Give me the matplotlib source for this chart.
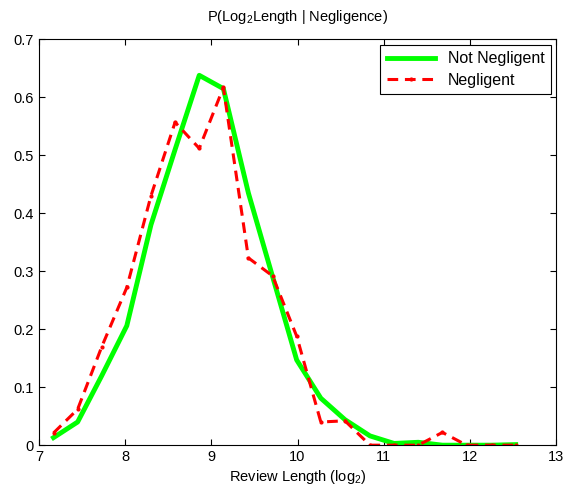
import matplotlib
matplotlib.use("Agg")
import matplotlib.pyplot as plt
from matplotlib.ticker import FormatStrFormatter

plt.rcParams['font.family'] = ['Liberation Sans', 'DejaVu Sans']
plt.rcParams['mathtext.default'] = 'regular'

# bin centres (log2 of review length)
log_len = [7.17, 7.45, 7.73, 8.02, 8.30, 8.58, 8.86, 9.14, 9.43, 9.71,
           9.99, 10.27, 10.55, 10.84, 11.12, 11.40, 11.68, 11.96, 12.25, 12.53]

not_negligent = [0.013, 0.040, 0.120, 0.206, 0.380, 0.510, 0.638, 0.615, 0.435, 0.291,
                 0.147, 0.081, 0.044, 0.016, 0.003, 0.005, 0.000, 0.000, 0.000, 0.001]

negligent = [0.021, 0.062, 0.170, 0.272, 0.430, 0.557, 0.512, 0.617, 0.323, 0.292,
             0.188, 0.040, 0.042, 0.000, 0.000, 0.000, 0.022, 0.000, 0.000, 0.000]

fig = plt.figure(figsize=(5.63, 4.86), dpi=100)
ax = fig.add_axes([0.069, 0.084, 0.919, 0.835])

ax.plot(log_len, not_negligent, '-', color='#00ff00', lw=3.5, label='Not Negligent')
ax.plot(log_len, negligent, '--', color='#ff0000', lw=2.2, marker='.', markersize=4,
        dashes=(3.5, 2.2), label='Negligent')

ax.set_xlim(7, 13)
ax.set_ylim(0, 0.7)
ax.set_xticks(range(7, 14))
ax.set_yticks([0, 0.1, 0.2, 0.3, 0.4, 0.5, 0.6, 0.7])
ax.yaxis.set_major_formatter(FormatStrFormatter('%g'))
ax.tick_params(direction='in', top=True, right=True, labelsize=10.5, length=4)

ax.set_title('P(Log$_2$Length | Negligence)', fontsize=10.5, pad=13)
ax.set_xlabel('Review Length (log$_2$)', fontsize=10.5, labelpad=3)

leg = ax.legend(loc='upper right', fontsize=11.5, fancybox=False, framealpha=1,
                edgecolor='black', borderaxespad=0.35, handlelength=3.0,
                borderpad=0.4, labelspacing=0.4)
leg.get_frame().set_linewidth(0.8)

fig.savefig('out.png', dpi=100)
